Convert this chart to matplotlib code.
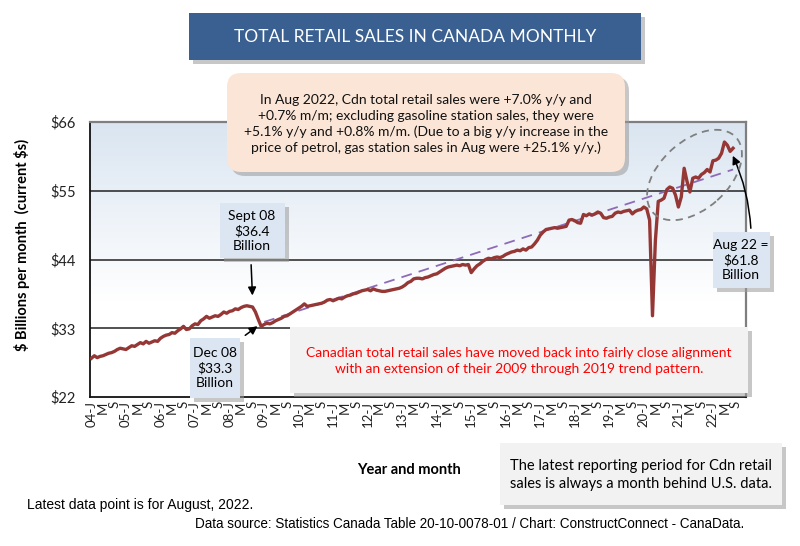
import matplotlib.pyplot as plt
import numpy as np
import pandas as pd
from matplotlib.patches import FancyBboxPatch, Ellipse

plt.rcParams['font.family'] = ['Lato', 'DejaVu Sans']

# monthly retail sales, $ billions, Jan 2004 - Aug 2022
sales = [
    28.2, 28.6, 28.3, 28.5, 28.6, 28.8, 29.0, 29.1, 29.3, 29.6, 29.8, 29.7,  # 2004
    29.6, 29.9, 30.2, 30.1, 30.4, 30.7, 30.5, 30.9, 30.6, 30.8, 31.0, 30.9,  # 2005
    31.4, 31.7, 31.9, 32.0, 32.3, 32.2, 32.6, 32.9, 33.3, 32.8, 32.9, 33.4,  # 2006
    33.7, 33.6, 34.2, 34.5, 34.9, 34.6, 34.8, 35.0, 34.9, 35.2, 35.6, 35.4,  # 2007
    35.7, 35.8, 36.1, 36.0, 36.3, 36.5, 36.6, 36.5, 36.4, 35.6, 34.4, 33.3,  # 2008
    33.6, 33.8, 33.7, 33.9, 34.2, 34.4, 34.6, 34.9, 35.0, 35.3, 35.6, 35.9,  # 2009
    36.2, 36.5, 36.9, 36.5, 36.6, 36.7, 36.8, 36.9, 37.0, 37.2, 37.5, 37.6,  # 2010
    37.4, 37.6, 37.8, 37.7, 38.0, 38.2, 38.3, 38.5, 38.6, 38.8, 39.0, 39.1,  # 2011
    39.2, 39.0, 39.3, 39.1, 39.0, 38.9, 38.9, 39.0, 39.1, 39.2, 39.3, 39.4,  # 2012
    39.6, 39.9, 40.3, 40.5, 40.9, 41.0, 41.0, 40.9, 41.1, 41.2, 41.4, 41.6,  # 2013
    41.7, 42.0, 42.3, 42.6, 42.8, 42.9, 43.0, 43.1, 43.0, 43.2, 43.1, 43.2,  # 2014
    41.9, 42.5, 43.0, 43.3, 43.7, 44.0, 44.2, 44.1, 44.3, 44.4, 44.3, 44.5,  # 2015
    44.8, 45.0, 45.2, 45.3, 45.5, 45.4, 45.7, 45.5, 45.9, 46.0, 46.5, 47.1,  # 2016
    47.9, 48.4, 48.8, 48.9, 49.0, 49.1, 49.0, 49.1, 49.2, 49.3, 50.3, 50.4,  # 2017
    50.2, 49.9, 49.8, 51.2, 51.0, 51.3, 51.1, 51.3, 51.6, 51.4, 50.7, 50.6,  # 2018
    50.8, 50.9, 51.4, 51.6, 51.5, 51.7, 51.8, 51.9, 51.3, 51.7, 51.9, 52.0,  # 2019
    52.4, 52.1, 50.3, 35.0, 47.0, 53.3, 53.5, 53.8, 55.2, 55.6, 55.4, 54.3,  # 2020
    52.4, 54.0, 58.6, 56.5, 54.8, 57.0, 57.2, 57.0, 57.6, 57.9, 58.4, 58.0,  # 2021
    59.8, 59.9, 60.2, 61.0, 62.8, 62.3, 61.3, 61.8,                          # 2022
]
months = pd.date_range("2004-01-01", periods=len(sales), freq="MS")

# 2009-2019 trend line, extended to the latest month
trend_months = ["2009-01-01", "2022-08-01"]
trend_values = [34.0, 58.4]

yticks = [22, 33, 44, 55, 66]
n_cats = 228  # axis runs a few months past the data

W, H = 800, 546
fig = plt.figure(figsize=(8, 5.46), dpi=100)


def fx(x):
    return x / W


def fy(y):
    return 1 - y / H


def box(x0, y0, x1, y1, fc, rad=0, shadow=True):
    style = "round,pad=0,rounding_size=%f" % (rad / 100) if rad else "square,pad=0"
    if shadow:
        s = FancyBboxPatch(((x0 + 4) / 100, (H - y1 - 4) / 100), (x1 - x0) / 100, (y1 - y0) / 100,
                           boxstyle=style, transform=fig.dpi_scale_trans,
                           fc='#9a9a9a', ec='none', alpha=0.55, zorder=1)
        fig.patches.append(s)
    p = FancyBboxPatch((x0 / 100, (H - y1) / 100), (x1 - x0) / 100, (y1 - y0) / 100,
                       boxstyle=style, transform=fig.dpi_scale_trans,
                       fc=fc, ec='none', zorder=1.1)
    fig.patches.append(p)


ax = fig.add_axes([fx(90), fy(397), 656 / W, 275 / H])

# light blue gradient background
top = np.array([218, 229, 241]) / 255
grad = np.ones((200, 1, 3))
for i in range(200):
    t = i / 199
    w = min(t / 0.65, 1.0)
    grad[i, 0, :] = top * (1 - w) + w
ax.imshow(grad, extent=[0, 1, 0, 1], transform=ax.transAxes, aspect='auto', zorder=0)

idx = np.arange(len(sales))
for g in [33, 44, 55]:
    ax.axhline(g, color='#222222', lw=1.1, zorder=1)

t_idx = [list(months).index(pd.Timestamp(m)) for m in trend_months]
ax.plot(t_idx, trend_values, color='#8E6BB8', lw=1.3, ls=(0, (6, 4)), zorder=2)
ax.plot(idx, sales, color='#953735', lw=2.4, zorder=3)

ax.set_xlim(-0.5, n_cats - 0.5)
ax.set_ylim(22, 66)
ax.set_yticks(yticks)
ax.set_yticklabels(['$%d' % v for v in yticks], fontsize=10.5)

tick_pos = np.arange(0, len(sales) + 1, 4)
tick_lab = []
for p in tick_pos:
    m = p % 12
    yr = 4 + p // 12
    if m == 0:
        tick_lab.append('%02d-J' % yr)
    elif m == 4:
        tick_lab.append('M')
    else:
        tick_lab.append('S')
ax.set_xticks(tick_pos)
ax.set_xticklabels(tick_lab, rotation=90, fontsize=9.5)
ax.tick_params(axis='both', length=0, colors='#222222')
ax.tick_params(axis='y', pad=10)
ax.tick_params(axis='x', pad=3)

for s in ['left', 'bottom']:
    ax.spines[s].set_color('#111111')
    ax.spines[s].set_linewidth(1.3)
for s in ['top', 'right']:
    ax.spines[s].set_color('#7f7f7f')
    ax.spines[s].set_linewidth(1.6)

# title banner
box(189, 13, 641, 60, '#3A6091', shadow=True)
fig.text(fx(415), fy(37), 'TOTAL RETAIL SALES IN CANADA MONTHLY', color='white',
         fontsize=12.5, ha='center', va='center', zorder=5)

# peach note
box(227, 73, 625, 172, '#FBE5D6', rad=14)
fig.text(fx(426), fy(124),
         'In Aug 2022, Cdn total retail sales were +7.0% y/y and\n'
         '+0.7% m/m; excluding gasoline station sales, they were\n'
         '+5.1% y/y and +0.8% m/m. (Due to a big y/y increase in the\n'
         'price of petrol, gas station sales in Aug were +25.1% y/y.)',
         fontsize=10, ha='center', va='center', linespacing=1.35, color='#111111', zorder=5)

# red comment box
box(290, 327, 748, 393, '#F2F2F2')
fig.text(fx(519), fy(361),
         'Canadian total retail sales have moved back into fairly close alignment\n'
         'with an extension of their 2009 through 2019 trend pattern.',
         fontsize=10, ha='center', va='center', linespacing=1.4, color='#FF0000', zorder=5)

# data call-outs
box(220, 203, 285, 258, '#DCE6F2')
fig.text(fx(252), fy(231), 'Sept 08\n$36.4\nBillion', fontsize=10, ha='center', va='center',
         linespacing=1.3, zorder=5)
box(190, 338, 240, 398, '#DCE6F2')
fig.text(fx(215), fy(368), 'Dec 08\n$33.3\nBillion', fontsize=10, ha='center', va='center',
         linespacing=1.3, zorder=5)
box(713, 232, 770, 288, '#DCE6F2')
fig.text(fx(741), fy(260), 'Aug 22 =\n$61.8\nBillion', fontsize=10, ha='center', va='center',
         linespacing=1.3, zorder=5)

arw = dict(arrowstyle='-|>', color='black', lw=1.1, mutation_scale=12)
ax.annotate('', xy=(56, 37.8), xytext=(fx(251), fy(262)), textcoords='figure fraction',
            arrowprops=arw, annotation_clip=False)
ax.annotate('', xy=(58.5, 33.6), xytext=(fx(243), fy(337)), textcoords='figure fraction',
            arrowprops=arw, annotation_clip=False)
ax.annotate('', xy=(222.5, 61.0), xytext=(fx(751), fy(231)), textcoords='figure fraction',
            arrowprops=dict(arw, connectionstyle='arc3,rad=0.1'), annotation_clip=False)

ell = Ellipse((694.5 / 100, (H - 175) / 100), 1.12, 0.68, angle=42, transform=fig.dpi_scale_trans,
              fill=False, ec='#7f7f7f', lw=1.3, ls=(0, (4, 3)), zorder=4)
fig.patches.append(ell)

# axis titles
fig.text(fx(22), fy(245), r'\$ Billions per month  (current \$s)', rotation=90, fontsize=10.5,
         weight='bold', ha='center', va='center')
fig.text(fx(409), fy(470), 'Year and month', fontsize=10.5, weight='bold', ha='center', va='center')

# bottom note box
box(500, 443, 782, 505, '#F2F2F2')
fig.text(fx(641), fy(475),
         'The latest reporting period for Cdn retail\nsales is always a month behind U.S. data.',
         fontsize=10.5, ha='center', va='center', linespacing=1.45, zorder=5)

fig.text(fx(27), fy(505), 'Latest data point is for August, 2022.', fontsize=10,
         family=['Liberation Sans'], ha='left', va='center')
fig.text(fx(195), fy(524),
         'Data source: Statistics Canada Table 20-10-0078-01 / Chart: ConstructConnect - CanaData.',
         fontsize=9.75, family=['Liberation Sans'], ha='left', va='center')

fig.savefig('out.png', dpi=100)
